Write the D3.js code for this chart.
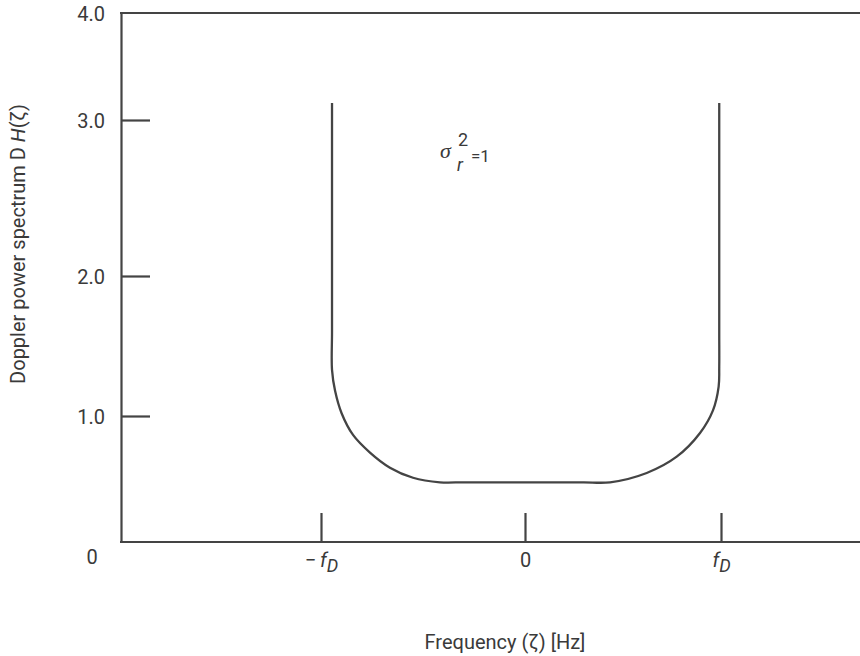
<!DOCTYPE html>
<html>
<head>
<meta charset="utf-8">
<script src="https://cdn.jsdelivr.net/npm/d3@7"></script>
<style>
  body { margin: 0; background: #fff; }
  text { font-family: "Roboto", sans-serif; fill: #3a3a3a; }
  .axis path, .axis line, .frame { stroke: #444; stroke-width: 2.2; }
  .curve { fill: none; stroke: #444; stroke-width: 2.3; }
</style>
</head>
<body>
<div id="chart"></div>
<script>
// frequency in units of fD, power
var freq = [-0.946, -0.946, -0.946, -0.946, -0.946, -0.931, -0.899, -0.843, -0.76, -0.662, -0.549,
            -0.417, -0.3, -0.15, 0, 0.15, 0.3,
             0.434, 0.621, 0.774, 0.893, 0.959, 0.988, 0.991, 0.991, 0.991, 0.991, 0.991];
var power = [3.16, 2.5, 2.0, 1.6, 1.33, 1.18, 1.02, 0.85, 0.71, 0.59, 0.51,
             0.474, 0.474, 0.474, 0.474, 0.474, 0.474,
             0.474, 0.548, 0.677, 0.865, 1.04, 1.21, 1.35, 1.6, 2.0, 2.5, 3.16];
var yTicks = [1, 2, 3, 4];
var yTickLabels = ["1.0", "2.0", "3.0", "4.0"];
var xTicks = [-1, 0, 1];

var w = 860;
var h = 656;

var data = freq.map(function(f, i) { return {f: f, p: power[i]}; });

// the drawing is a sketch, tick spacing is not even
var xScale = d3.scaleLinear()
    .domain([-1, 0, 1])
    .range([321, 525, 721]);

var yScale = d3.scaleLinear()
    .domain([0, 1, 2, 3, 4])
    .range([542, 416, 276, 120, 13]);

var svg = d3.select("#chart")
    .append("svg")
    .attr("width", w)
    .attr("height", h);

// frame: top and bottom run off the right edge
svg.append("line")
    .attr("class", "frame")
    .attr("x1", 120).attr("x2", w)
    .attr("y1", yScale(4)).attr("y2", yScale(4));
svg.append("line")
    .attr("class", "frame")
    .attr("x1", 120).attr("x2", w)
    .attr("y1", yScale(0)).attr("y2", yScale(0));

var yAxis = d3.axisLeft(yScale)
    .tickValues(yTicks)
    .tickSize(-29)
    .tickSizeOuter(0)
    .tickPadding(16)
    .tickFormat(function(d, i) { return yTickLabels[i]; });

var gy = svg.append("g")
    .attr("class", "axis")
    .attr("transform", "translate(121,0)")
    .call(yAxis);
gy.selectAll("text").style("font-size", "20px").attr("fill", "#3a3a3a").attr("dy", "0.36em");
gy.selectAll(".tick").filter(function(d) { return d === 4; }).select("line").remove();

var xAxis = d3.axisBottom(xScale)
    .tickValues(xTicks)
    .tickSize(-29)
    .tickSizeOuter(0)
    .tickPadding(14)
    .tickFormat("");

var gx = svg.append("g")
    .attr("class", "axis")
    .attr("transform", "translate(0," + yScale(0) + ")")
    .call(xAxis);
gx.select(".domain").remove();

gx.selectAll(".tick text").each(function(d) {
    var t = d3.select(this).style("font-size", "20px").attr("y", 11).attr("dy", "0.71em");
    if (d === 0) {
        t.text("0");
    } else {
        if (d < 0) t.append("tspan").text("\u2212");
        t.append("tspan").style("font-style", "italic").attr("dx", d < 0 ? 4 : 0).text("f");
        t.append("tspan").style("font-style", "italic").style("font-size", "18px")
            .attr("dy", "5").text("D");
    }
});

// corner zero
svg.append("text")
    .attr("x", 92)
    .attr("y", 564)
    .attr("text-anchor", "middle")
    .style("font-size", "20px")
    .text("0");

var line = d3.line()
    .x(function(d) { return xScale(d.f); })
    .y(function(d) { return yScale(d.p); })
    .curve(d3.curveCatmullRom.alpha(0.5));

svg.append("path")
    .datum(data)
    .attr("class", "curve")
    .attr("d", line);

// sigma_r^2 = 1
svg.append("text")
    .attr("x", 440).attr("y", 158)
    .style("font-family", "'Liberation Serif', serif")
    .style("font-style", "italic")
    .style("font-size", "22px")
    .text("\u03c3");
svg.append("text")
    .attr("x", 458).attr("y", 146)
    .style("font-size", "18px")
    .text("2");
svg.append("text")
    .attr("x", 457).attr("y", 171)
    .style("font-style", "italic")
    .style("font-size", "18px")
    .text("r");
svg.append("text")
    .attr("x", 471).attr("y", 162)
    .style("font-size", "17px")
    .text("=1");

svg.append("text")
    .attr("x", 505)
    .attr("y", 649)
    .attr("text-anchor", "middle")
    .style("font-size", "20px")
    .text("Frequency (\u03b6) [Hz]");

var yt = svg.append("text")
    .attr("transform", "translate(25,244) rotate(-90)")
    .attr("text-anchor", "middle")
    .style("font-size", "20px");
yt.append("tspan").text("Doppler power spectrum D ");
yt.append("tspan").style("font-style", "italic").text("H");
yt.append("tspan").text("(\u03b6)");
</script>
</body>
</html>
